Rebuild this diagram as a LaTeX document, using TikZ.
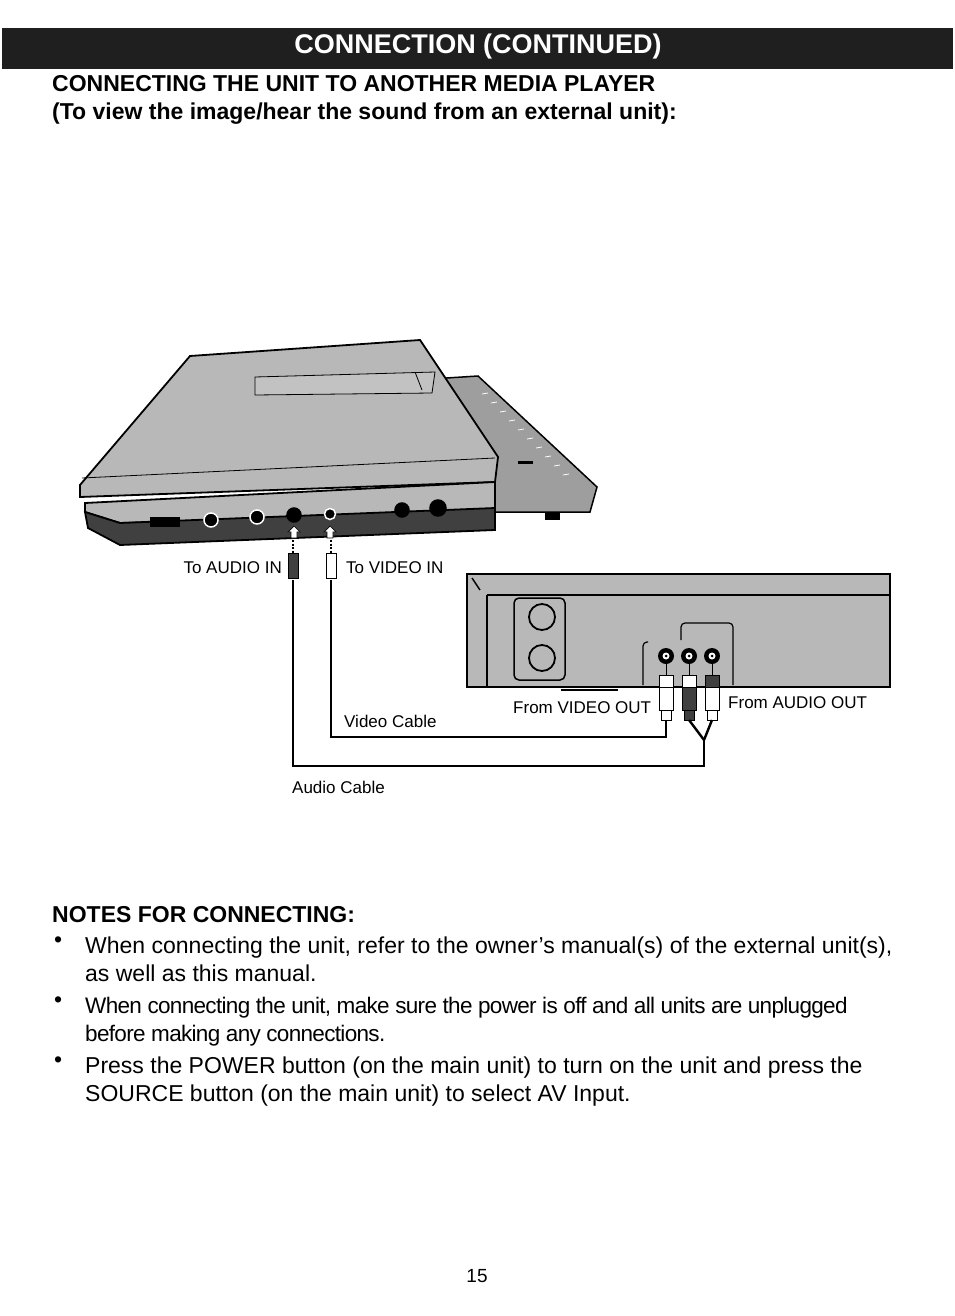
\documentclass[tikz,border=0pt]{standalone}
\usepackage{fontspec}
\setmainfont{Liberation Sans}
\usetikzlibrary{positioning,calc}
\definecolor{lidgray}{gray}{0.72}
\definecolor{bodygray}{gray}{0.62}
\definecolor{darkgray}{gray}{0.25}
\tikzset{
  lbl/.style={font=\fontsize{17}{19}\selectfont, inner sep=0pt},
  body/.style={font=\fontsize{23}{28}\selectfont, inner sep=0pt, anchor=north west, align=left},
  cable/.style={line width=2.4pt, black},
  jackhole/.style={circle, fill=black, draw=white, line width=1.5pt, minimum size=14pt, inner sep=0pt},
  rca/.style={circle, fill=black, minimum size=16pt, inner sep=0pt, path picture={\fill[white] (path picture bounding box.center) circle (3.5pt); \fill[black] (path picture bounding box.center) circle (1.5pt);}}
}
\begin{document}
\begin{tikzpicture}[x=1pt,y=-1pt]
  \useasboundingbox (0,0) rectangle (954,1316);
  % header
  \fill[black!88] (2,28) rectangle (953,69);
  \node[font=\fontsize{27}{30}\selectfont\bfseries, text=white] (title) at (478,47) {CONNECTION (CONTINUED)};
  \node[font=\fontsize{23}{28}\selectfont\bfseries, anchor=north west, align=left, inner sep=0pt] (sub) at (52,75)
    {CONNECTING THE UNIT TO ANOTHER MEDIA PLAYER\\(To view the image/hear the sound from an external unit):};

  % portable player
  \filldraw[fill=bodygray, line width=1.5pt] (415,380) -- (478,376) -- (597,487) -- (590,512) -- (493,512) -- (493,470) -- cycle;
  \foreach \k in {0,...,9}
    \draw[white, line width=0.8pt] (482+\k*9,394+\k*9) -- (488+\k*9,393+\k*9);
  \fill[black] (518,461) rectangle (533,464);
  \fill[black] (545,513) rectangle (560,520);
  \filldraw[fill=lidgray, line width=1.8pt] (80,485) -- (190,356) -- (420,340) -- (498,457) -- (495,482) -- (80,497) -- cycle;
  \draw[line width=0.8pt] (82,478) -- (495,458);
  \filldraw[fill=lidgray!85, line width=0.8pt] (255,377) -- (435,372) -- (432,393) -- (255,395) -- cycle;
  \draw[line width=0.8pt] (415,372) -- (422,390);
  \filldraw[fill=lidgray, line width=1.8pt] (85,503) -- (495,482) -- (495,512) -- (120,523) -- (85,512) -- cycle;
  \filldraw[fill=darkgray, line width=1.8pt] (85,512) -- (120,523) -- (495,508) -- (495,530) -- (120,545) -- (88,528) -- cycle;
  \fill[black] (150,517) rectangle (180,527);
  \node[jackhole] (j1) at (211,520) {};
  \node[jackhole] (j2) at (257,517) {};
  \node[jackhole, draw=black] (jaudio) at (294,515) {};
  \node[jackhole, minimum size=11pt] (jvideo) at (330,514) {};
  \node[jackhole, draw=black] (j5) at (402,510) {};
  \node[jackhole, draw=black, minimum size=16pt] (j6) at (438,508) {};
  \foreach \x in {294,330}
    \filldraw[fill=white, line width=0.7pt] (\x,526) -- (\x+6,532) -- (\x+3,532) -- (\x+3,538) -- (\x-3,538) -- (\x-3,532) -- (\x-6,532) -- cycle;

  % mini plugs
  \draw[line width=1.5pt, dash pattern=on 2pt off 1.5pt] (293,540) -- (293,553);
  \draw[line width=1.5pt, dash pattern=on 2pt off 1.5pt] (331,540) -- (331,553);
  \filldraw[fill=darkgray, line width=0.8pt] (288,553) rectangle (298,578);
  \filldraw[fill=white, line width=0.8pt] (326,553) rectangle (336,578);
  \coordinate (paudio) at (293,580);
  \coordinate (pvideo) at (331,580);
  \node[lbl, anchor=east] (toaudio) at (282,568) {To AUDIO IN};
  \node[lbl, anchor=west] (tovideo) at (346,568) {To VIDEO IN};

  % external unit
  \filldraw[fill=lidgray, line width=1.8pt] (467,574) rectangle (890,687);
  \draw[line width=1.5pt] (487,595) -- (890,595);
  \draw[line width=1.5pt] (487,595) -- (487,687);
  \draw[line width=1.5pt] (472,578) -- (480,590);
  \draw[line width=1.5pt, rounded corners=5pt] (514,598) rectangle (565,680);
  \draw[line width=1.8pt] (542,617) circle (13pt);
  \draw[line width=1.8pt] (542,658) circle (13pt);
  \draw[line width=1.2pt, rounded corners=4pt] (648,642) -- (643,642) -- (643,685);
  \draw[line width=1.2pt, rounded corners=4pt] (681,640) -- (681,623) -- (733,623) -- (733,685);
  \node[rca] (ovideo) at (666,656) {};
  \node[rca] (oaudl) at (689,656) {};
  \node[rca] (oaudr) at (712,656) {};
  \draw[line width=1.8pt] (561,690) -- (618,690);

  % rca plugs
  \foreach \x/\c/\t in {666/white/white, 689/darkgray/white, 712/white/darkgray} {
    \draw[line width=1pt] (\x,664) -- (\x,675);
    \filldraw[fill=\t, line width=1pt] (\x-7,675) rectangle (\x+7,687);
    \filldraw[fill=\c, line width=1pt] (\x-7,687) rectangle (\x+7,710);
    \filldraw[fill=\c, line width=1pt] (\x-5,710) rectangle (\x+5,720);
  }
  \node[lbl, anchor=west] (fromvideo) at (513,708) {From VIDEO OUT};
  \node[lbl, anchor=west] (fromaudio) at (728,703) {From AUDIO OUT};

  % cables
  \coordinate (ysplit) at (704,740);
  \draw[cable] (pvideo) |- (666,737) -- (ovideo.south |- 0,720);
  \draw[cable] (paudio) |- (704,766) -- (ysplit);
  \draw[cable] (ysplit) -- (689,720);
  \draw[cable] (ysplit) -- (712,720);
  \node[lbl, anchor=west] (videocable) at (344,721) {Video Cable};
  \node[lbl, anchor=west] (audiocable) at (292,787) {Audio Cable};

  % notes
  \node[font=\fontsize{23}{26}\selectfont\bfseries, anchor=west, inner sep=0pt] (notes) at (52,915) {NOTES FOR CONNECTING:};
  \node[body] (n1) at (85,937) {When connecting the unit, refer to the owner’s manual(s) of the external unit(s),\\as well as this manual.};
  \node[body, font=\fontsize{22.5}{28}\selectfont\addfontfeature{LetterSpace=-3}] (n2) at (85,997) {When connecting the unit, make sure the power is off and all units are unplugged\\before making any connections.};
  \node[body] (n3) at (85,1057) {Press the POWER button (on the main unit) to turn on the unit and press the\\SOURCE button (on the main unit) to select AV Input.};
  \foreach \n in {n1,n2,n3}
    \node[font=\fontsize{23}{28}\selectfont, anchor=north west, inner sep=0pt] at ($(\n.north west)+(-31,0)$) {•};
  \node[font=\fontsize{19}{22}\selectfont] (page) at (477,1276) {15};
\end{tikzpicture}
\end{document}
